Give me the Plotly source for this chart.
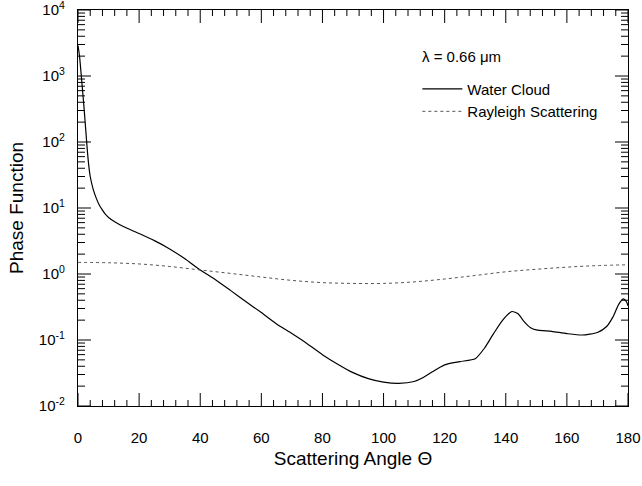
import plotly.graph_objects as go

# Water cloud phase function
cloud_angle = [0, 0.5, 1, 1.5, 2, 2.5, 3, 3.5, 4, 5, 6, 7, 8, 9, 10, 12, 15, 20, 25, 30,
               35, 40, 45, 50, 55, 60, 65, 70, 75, 80, 85, 90, 95, 100, 105, 110, 113,
               116, 120, 125, 130, 133, 136, 139, 142, 144, 146, 148, 150, 155, 160,
               165, 170, 173, 175, 177, 178.5, 179.5, 180]
cloud_value = [2900, 2000, 1100, 600, 320, 160, 80, 45, 30, 19, 14, 11, 9.3, 8.0, 7.2,
               6.2, 5.2, 4.1, 3.2, 2.4, 1.7, 1.15, 0.82, 0.56, 0.38, 0.26, 0.175, 0.125,
               0.088, 0.060, 0.043, 0.032, 0.026, 0.023, 0.022, 0.0235, 0.027, 0.033,
               0.042, 0.047, 0.052, 0.075, 0.125, 0.20, 0.27, 0.25, 0.19, 0.155, 0.142,
               0.135, 0.125, 0.119, 0.13, 0.16, 0.22, 0.35, 0.42, 0.38, 0.33]

# Rayleigh scattering phase function
rayleigh_angle = [0, 10, 20, 30, 40, 50, 60, 70, 80, 90, 100, 110, 120, 130, 140, 150,
                  160, 170, 180]
rayleigh_value = [1.5, 1.48, 1.42, 1.3, 1.15, 1.02, 0.9, 0.8, 0.74, 0.72, 0.72, 0.76,
                  0.84, 0.95, 1.08, 1.18, 1.27, 1.34, 1.38]

x_ticks = [0, 20, 40, 60, 80, 100, 120, 140, 160, 180]
x_minor_step = 4
y_tickvals = [1e-2, 1e-1, 1, 10, 100, 1000, 10000]
y_ticktext = ["10<sup>-2</sup>", "10<sup>-1</sup>", "10<sup>0</sup>", "10<sup>1</sup>",
              "10<sup>2</sup>", "10<sup>3</sup>", "10<sup>4</sup>"]

FONT = "Liberation Sans, Arial, sans-serif"
X_RANGE = [0, 180]
Y_RANGE = [-2, 4]

# plot-area size in pixels (used to express inward tick lengths in axis units)
W, H = 642, 486
ML, MR, MT, MB = 78, 14, 10, 80
PW, PH = W - ML - MR, H - MT - MB
x_per_px = (X_RANGE[1] - X_RANGE[0]) / PW
dec_per_px = (Y_RANGE[1] - Y_RANGE[0]) / PH
y_lo, y_hi = 10 ** Y_RANGE[0], 10 ** Y_RANGE[1]

# inward tick marks on all four sides, derived from the tick lists
tx, ty = [], []
x_minor = [v for v in range(X_RANGE[0], X_RANGE[1] + 1, x_minor_step) if v not in x_ticks]
for vals, px in ((x_ticks, 13), (x_minor, 6)):
    f = 10 ** (px * dec_per_px)
    for v in vals:
        tx += [v, v, None, v, v, None]
        ty += [y_lo, y_lo * f, None, y_hi, y_hi / f, None]
y_minor = [m * d for d in y_tickvals[:-1] for m in range(2, 10)]
for vals, px in ((y_tickvals, 13), (y_minor, 7)):
    dx = px * x_per_px
    for v in vals:
        tx += [X_RANGE[0], X_RANGE[0] + dx, None, X_RANGE[1], X_RANGE[1] - dx, None]
        ty += [v, v, None, v, v, None]

fig = go.Figure()
fig.add_trace(go.Scatter(x=cloud_angle, y=cloud_value, mode="lines",
                         name="Water Cloud",
                         line=dict(color="black", width=1.2, shape="spline", smoothing=0.6)))
fig.add_trace(go.Scatter(x=rayleigh_angle, y=rayleigh_value, mode="lines",
                         name="Rayleigh Scattering",
                         line=dict(color="#555555", width=1, dash="dot", shape="spline")))
fig.add_trace(go.Scatter(x=tx, y=ty, mode="lines", showlegend=False, hoverinfo="skip",
                         line=dict(color="black", width=1), connectgaps=False))

fig.update_layout(
    template="none",
    width=W, height=H,
    margin=dict(l=ML, r=MR, t=MT, b=MB),
    paper_bgcolor="white", plot_bgcolor="white",
    font=dict(family=FONT, color="black", size=15),
    showlegend=True,
    legend=dict(x=0.617, y=0.842, xanchor="left", yanchor="top", itemwidth=40,
                bgcolor="rgba(0,0,0,0)", font=dict(size=15)),
    annotations=[dict(text="λ = 0.66 μm", x=0.622, y=0.882, xref="paper", yref="paper",
                      xanchor="left", yanchor="middle", showarrow=False,
                      font=dict(size=15))],
    xaxis=dict(range=X_RANGE, tickvals=x_ticks, ticks="", showline=True,
               linecolor="black", linewidth=1.2, mirror=True, showgrid=False,
               zeroline=False, tickfont=dict(size=15), ticklabelstandoff=18,
               ticklabeloverflow="allow",
               title=dict(text="Scattering Angle Θ", font=dict(size=19), standoff=6)),
    yaxis=dict(type="log", range=Y_RANGE, tickvals=y_tickvals, ticktext=y_ticktext,
               ticks="", showline=True, linecolor="black", linewidth=1.2, mirror=True,
               showgrid=False, zeroline=False, tickfont=dict(size=15),
               ticklabelstandoff=9, ticklabeloverflow="allow",
               title=dict(text="Phase Function", font=dict(size=19), standoff=10)),
)

fig.write_html("out.html")
